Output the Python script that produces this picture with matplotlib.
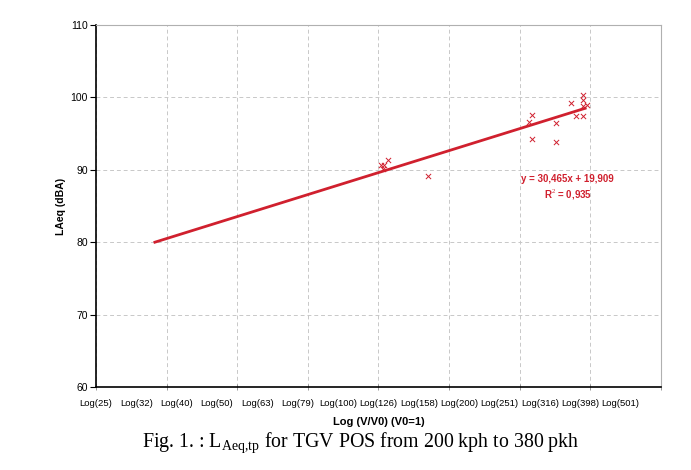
import numpy as np
import matplotlib.pyplot as plt
from matplotlib.ticker import MultipleLocator

plt.rcParams['font.family'] = ['Liberation Sans', 'DejaVu Sans']
plt.rcParams['mathtext.fontset'] = 'custom'
plt.rcParams['mathtext.rm'] = 'Liberation Serif'

# measured points, x = log10(V), y = LAeq (dBA)
pts_x = [2.124, 2.106, 2.114, 2.111, 2.223,
         2.480, 2.473, 2.480, 2.540, 2.540, 2.577, 2.589,
         2.607, 2.607, 2.607, 2.617, 2.607]
pts_y = [91.35, 90.66, 90.66, 90.1, 89.14,
         97.57, 96.6, 94.25, 96.46, 93.84, 99.23, 97.43,
         100.33, 99.64, 98.81, 98.95, 97.43]

# trend line ends
fit_x = [1.546, 2.612]
fit_y = [80.0, 98.5]

speeds = [25, 32, 40, 50, 63, 79, 100, 126, 158, 200, 251, 316, 398, 501]
label_pos = [1.4 + 0.1 * i for i in range(len(speeds))]
x_labels = ['Log(%d)' % s for s in speeds]

red = '#d0202e'

fig = plt.figure(figsize=(6.91, 4.70), dpi=100)
ax = fig.add_axes([0.1389, 0.1766, 0.8177, 0.7702])

ax.plot(fit_x, fit_y, color=red, lw=2.0, zorder=3)
ax.scatter(pts_x, pts_y, marker='x', s=14, color=red, linewidths=0.7, zorder=4)

ax.set_xlim(1.4, 2.8)
ax.set_ylim(60, 110)
ax.xaxis.remove_overlapping_locs = False
ax.xaxis.set_major_locator(MultipleLocator(0.175))
ax.yaxis.set_major_locator(MultipleLocator(10))
ax.set_xticks(label_pos, x_labels, minor=True)
ax.tick_params(axis='x', which='major', labelbottom=False, direction='inout', length=5, width=0.6, color='#888888')
ax.tick_params(axis='x', which='minor', length=0, labelsize=6.8, pad=9)
ax.tick_params(axis='y', direction='out', length=4, width=0.8, labelsize=7.5, pad=2)

ax.grid(True, which='major', ls=(0, (4, 3)), color='#c8c8c8', lw=0.7)
ax.spines['top'].set_color('#b0b0b0')
ax.spines['right'].set_color('#b0b0b0')
ax.spines['left'].set_linewidth(1.2)
ax.spines['bottom'].set_linewidth(1.2)

ax.set_ylabel('LAeq (dBA)', fontsize=7.5, fontweight='bold', labelpad=3)
ax.set_xlabel('Log (V/V0) (V0=1)', fontsize=8, fontweight='bold', labelpad=6)

ax.text(2.567, 88.7, 'y = 30,465x + 19,909', color=red, fontsize=7, fontweight='bold', ha='center', va='center')
ax.text(2.569, 86.5, 'R$^{2}$ = 0,935', color=red, fontsize=7, fontweight='bold', ha='center', va='center')

fig.text(0.522, 0.058, r'Fig. 1. : L$_{\mathrm{Aeq{,}tp}}$ for TGV POS from 200 kph to 380 pkh',
         fontsize=14.3, family='Liberation Serif', ha='center', va='center')

fig.savefig('out.png', dpi=100)
